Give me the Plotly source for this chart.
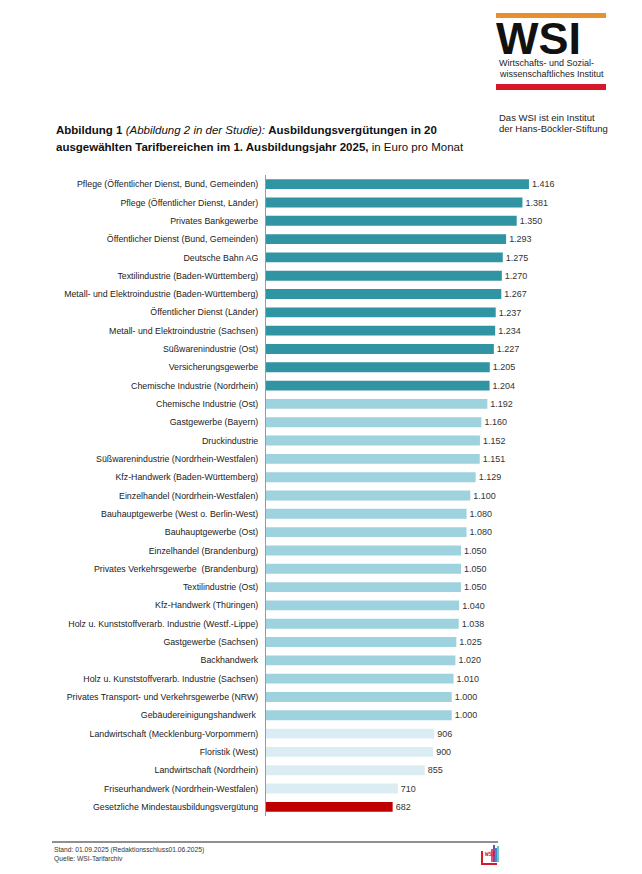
import plotly.graph_objects as go

categories = [
    "Pflege (Öffentlicher Dienst, Bund, Gemeinden)",
    "Pflege (Öffentlicher Dienst, Länder)",
    "Privates Bankgewerbe",
    "Öffentlicher Dienst (Bund, Gemeinden)",
    "Deutsche Bahn AG",
    "Textilindustrie (Baden-Württemberg)",
    "Metall- und Elektroindustrie (Baden-Württemberg)",
    "Öffentlicher Dienst (Länder)",
    "Metall- und Elektroindustrie (Sachsen)",
    "Süßwarenindustrie (Ost)",
    "Versicherungsgewerbe",
    "Chemische Industrie (Nordrhein)",
    "Chemische Industrie (Ost)",
    "Gastgewerbe (Bayern)",
    "Druckindustrie",
    "Süßwarenindustrie (Nordrhein-Westfalen)",
    "Kfz-Handwerk (Baden-Württemberg)",
    "Einzelhandel (Nordrhein-Westfalen)",
    "Bauhauptgewerbe (West o. Berlin-West)",
    "Bauhauptgewerbe (Ost)",
    "Einzelhandel (Brandenburg)",
    "Privates Verkehrsgewerbe  (Brandenburg)",
    "Textilindustrie (Ost)",
    "Kfz-Handwerk (Thüringen)",
    "Holz u. Kunststoffverarb. Industrie (Westf.-Lippe)",
    "Gastgewerbe (Sachsen)",
    "Backhandwerk",
    "Holz u. Kunststoffverarb. Industrie (Sachsen)",
    "Privates Transport- und Verkehrsgewerbe (NRW)",
    "Gebäudereinigungshandwerk ",
    "Landwirtschaft (Mecklenburg-Vorpommern)",
    "Floristik (West)",
    "Landwirtschaft (Nordrhein)",
    "Friseurhandwerk (Nordrhein-Westfalen)",
    "Gesetzliche Mindestausbildungsvergütung",
]

values = [1416, 1381, 1350, 1293, 1275, 1270, 1267, 1237, 1234, 1227, 1205, 1204,
          1192, 1160, 1152, 1151, 1129, 1100, 1080, 1080, 1050, 1050, 1050, 1040,
          1038, 1025, 1020, 1010, 1000, 1000,
          906, 900, 855, 710,
          682]

groups = (["hoch"] * 12) + (["mittel"] * 18) + (["niedrig"] * 4) + (["gesetzlich"] * 1)

group_colors = {
    "hoch": "#3094a2",
    "mittel": "#9dd2de",
    "niedrig": "#dbedf2",
    "gesetzlich": "#c00000",
}
bar_colors = [group_colors[g] for g in groups]

W, H = 642, 874
L, R, T, B = 266, 42, 175, 58
PW = W - L - R
PH = H - T - B


def px(x):
    return (x - L) / PW


def py(y):
    return 1 - (y - T) / PH


FONT = "Liberation Sans, Arial, sans-serif"

fig = go.Figure()
fig.add_trace(go.Bar(
    x=values,
    y=categories,
    orientation="h",
    marker=dict(color=bar_colors, line=dict(width=0)),
    width=0.54,
    text=values,
    texttemplate="%{x:,.0f}",
    textposition="outside",
    textfont=dict(family=FONT, size=10, color="#333333"),
    cliponaxis=False,
    hoverinfo="x+y",
))

annotations = []
shapes = []


def note(x, y, text, size, color="#222222", family=FONT, height=None):
    a = dict(
        xref="paper", yref="paper", x=px(x), y=py(y), xanchor="left", yanchor="middle",
        showarrow=False, align="left", text=text,
        font=dict(family=family, size=size, color=color),
    )
    if height is not None:
        a["height"] = height
        a["valign"] = "middle"
    annotations.append(a)


def rect(x0, y0, x1, y1, color):
    shapes.append(dict(type="rect", xref="paper", yref="paper",
                       x0=px(x0), x1=px(x1), y0=py(y1), y1=py(y0),
                       fillcolor=color, line=dict(width=0), layer="above"))


# Title
note(54, 130, "<b>Abbildung 1</b> <i>(Abbildung 2 in der Studie):</i> <b>Ausbildungsvergütungen in 20</b>",
     11.5, "#111111")
note(54, 147, "<b>ausgewählten Tarifbereichen im 1. Ausbildungsjahr 2025,</b> in Euro pro Monat",
     11.5, "#111111")

# WSI logo
rect(496, 13, 606, 18, "#e8912c")
note(494, 38, "<b>WSI</b>", 45, "#111111", height=36)
note(497, 63, "Wirtschafts- und Sozial-", 9)
note(497, 74, "wissenschaftliches Institut", 9)
rect(496, 84, 606, 90, "#d7182a")
note(497, 117, "Das WSI ist ein Institut", 9.5)
note(497, 128, "der Hans-Böckler-Stiftung", 9.5)

# Footer
rect(52, 841.5, 498, 842.5, "#222222")
note(52, 850, "Stand: 01.09.2025 (Redaktionsschluss01.06.2025)", 6.7, "#333333")
note(52, 859, "Quelle: WSI-Tarifarchiv", 6.7, "#333333")

# small Tarifarchiv logo
rect(481, 851, 483, 865, "#d7182a")
rect(481, 863, 497, 865, "#d7182a")
note(483, 853, "<b>WSI</b>", 6, "#d7182a", "DejaVu Sans Mono, monospace")
for xb, yt, col in [(491, 849, "#e0507a"), (493, 845, "#7a4fa0"), (495, 848, "#3a8fd0"), (497, 846, "#6fc5c9")]:
    rect(xb, yt, xb + 2, 862, col)

fig.update_layout(
    width=W, height=H,
    margin=dict(l=L, r=R, t=T, b=B, pad=0),
    paper_bgcolor="white", plot_bgcolor="white",
    separators=",.",
    showlegend=False,
    font=dict(family=FONT, size=8.8, color="#222222"),
    xaxis=dict(range=[0, PW / 0.1857], visible=False, fixedrange=True),
    yaxis=dict(
        autorange="reversed", type="category",
        showline=True, linecolor="#9a9a9a", linewidth=1,
        showgrid=False, zeroline=False, ticks="", ticklabelstandoff=5,
        tickfont=dict(family=FONT, size=8.8, color="#222222"),
    ),
    annotations=annotations,
    shapes=shapes,
)

fig.write_html("out.html", config={"displayModeBar": False},
               post_script="document.body.style.margin='0';")
